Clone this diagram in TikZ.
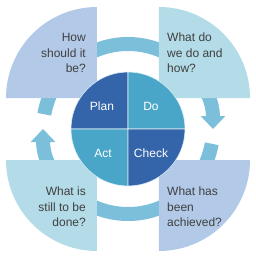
\documentclass[tikz,border=0pt]{standalone}
\usepackage{fontspec}
\setmainfont{Liberation Sans}
\usepackage{tikz}
\usetikzlibrary{arrows.meta,positioning}
\definecolor{PdcaDark}{RGB}{52,100,170}
\definecolor{PdcaMid}{RGB}{74,166,200}
\definecolor{PdcaRing}{RGB}{123,191,218}
\definecolor{PdcaLav}{RGB}{178,201,232}
\definecolor{PdcaCyan}{RGB}{179,219,232}
\definecolor{PdcaText}{RGB}{64,64,64}

\begin{document}
\begin{tikzpicture}[x=1pt,y=1pt,
  ring/.style={draw=PdcaRing,line width=14pt,
               -{Triangle[width=24pt,length=13pt]}},
  qbox/.style={font=\fontsize{12}{15.5}\selectfont,text=PdcaText,inner sep=0pt},
  qlab/.style={font=\fontsize{12}{15}\selectfont,text=white,inner sep=0pt},
]
\useasboundingbox (0,0) rectangle (256,258);
% cycle arrows
\draw[ring] (128,129) ++(170:85) arc[start angle=170,end angle=0,radius=85pt];
\draw[ring] (128,129) ++(-10:85) arc[start angle=-10,end angle=-180,radius=85pt];
% outer quarter boxes
\fill[PdcaLav] (97,160) -- ++(0,91) arc[start angle=90,end angle=180,radius=91pt] -- cycle;
\fill[PdcaCyan] (159,160) -- ++(91,0) arc[start angle=0,end angle=90,radius=91pt] -- cycle;
\fill[PdcaCyan] (97,98) -- ++(-91,0) arc[start angle=180,end angle=270,radius=91pt] -- cycle;
\fill[PdcaLav] (159,98) -- ++(0,-91) arc[start angle=270,end angle=360,radius=91pt] -- cycle;
% centre circle
\filldraw[fill=PdcaDark,draw=white!80!PdcaMid,line width=0.6pt]
  (128,129) -- ++(0,57) arc[start angle=90,end angle=180,radius=57pt] -- cycle;
\filldraw[fill=PdcaMid,draw=white!80!PdcaMid,line width=0.6pt]
  (128,129) -- ++(57,0) arc[start angle=0,end angle=90,radius=57pt] -- cycle;
\filldraw[fill=PdcaMid,draw=white!80!PdcaMid,line width=0.6pt]
  (128,129) -- ++(-57,0) arc[start angle=180,end angle=270,radius=57pt] -- cycle;
\filldraw[fill=PdcaDark,draw=white!80!PdcaMid,line width=0.6pt]
  (128,129) -- ++(0,-57) arc[start angle=270,end angle=360,radius=57pt] -- cycle;
\node[qlab] (plan) at (102,152) {Plan};
\node[qlab] (do) at (151,152) {Do};
\node[qlab] (act) at (103,105) {Act};
\node[qlab] (check) at (151,105) {Check};
% questions
\node[qbox,align=right,anchor=east] (how) at (86,205) {How\\should it\\be?};
\node[qbox,align=left,anchor=west] (what) at (167,205) {What do\\we do and\\how?};
\node[qbox,align=right,anchor=east] (still) at (86,51) {What is\\still to be\\done?};
\node[qbox,align=left,anchor=west] (achieved) at (167,51) {What has\\been\\achieved?};
\end{tikzpicture}
\end{document}
